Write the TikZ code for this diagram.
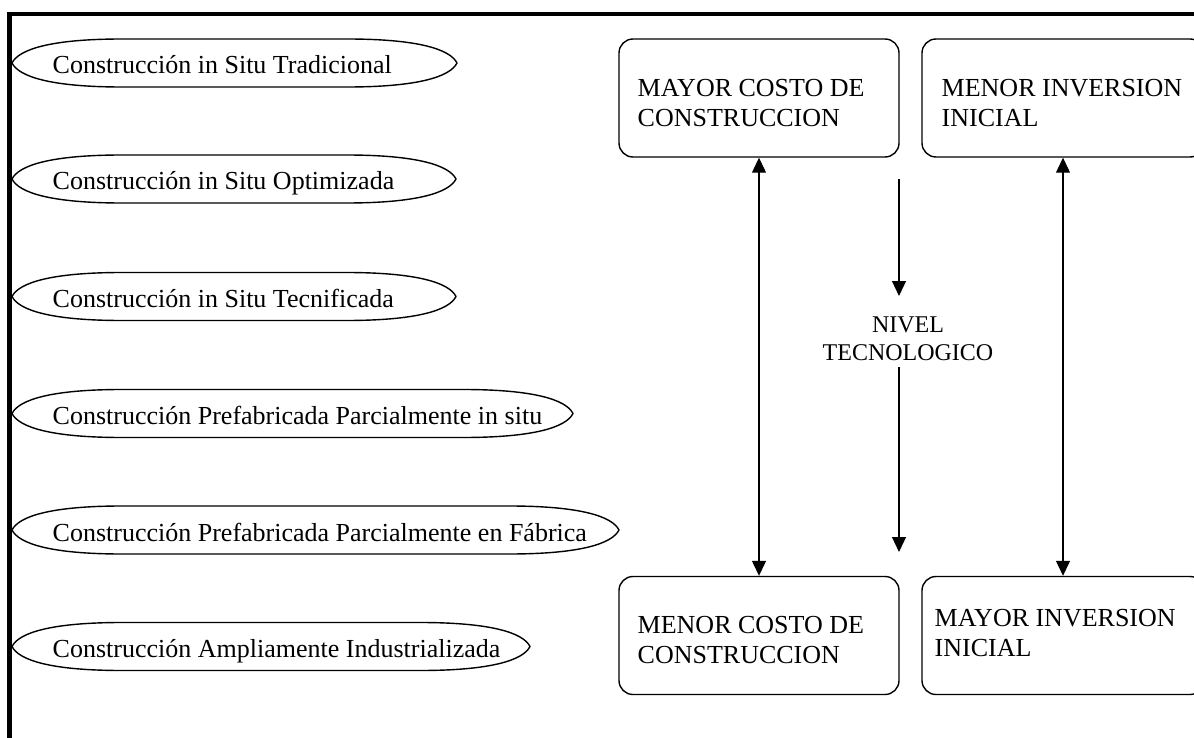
\documentclass[tikz,border=0pt]{standalone}
\usepackage{fontspec}
\setmainfont{Liberation Serif}
\usetikzlibrary{arrows.meta}
\newcommand\ovalpath[1]{%
  \draw[ovl] (#1.west)
    .. controls ([xshift=7pt,yshift=14pt]#1.west) and ([xshift=40pt]#1.north west) .. ([xshift=110pt]#1.north west)
    -- ([xshift=-110pt]#1.north east)
    .. controls ([xshift=-40pt]#1.north east) and ([xshift=-7pt,yshift=14pt]#1.east) .. (#1.east)
    .. controls ([xshift=-7pt,yshift=-14pt]#1.east) and ([xshift=-40pt]#1.south east) .. ([xshift=-110pt]#1.south east)
    -- ([xshift=110pt]#1.south west)
    .. controls ([xshift=40pt]#1.south west) and ([xshift=7pt,yshift=-14pt]#1.west) .. cycle;}
\begin{document}
\begin{tikzpicture}[x=1pt,y=-1pt,
  ov/.style={rectangle, inner sep=0pt, outer sep=0pt, minimum height=48pt},
  ovl/.style={line width=1.4pt, line join=round},
  lbl/.style={anchor=base west, inner sep=0pt, font=\fontsize{26}{30}\selectfont},
  rbox/.style={draw, rounded corners=14pt, line width=1.4pt, minimum height=118pt, inner sep=0pt},
  boxtxt/.style={anchor=base west, inner sep=0pt, font=\fontsize{26}{30}\selectfont},
  midtxt/.style={anchor=base, inner sep=0pt, font=\fontsize{24}{28}\selectfont},
  tip/.tip={Triangle[length=15pt,width=14pt]},
  conn/.style={line width=1.2pt, -tip},
  dconn/.style={line width=1.2pt, tip-tip}
]
\useasboundingbox (0,0) rectangle (1194,738);
\clip (0,0) rectangle (1194,738);

% frame
\draw[line width=4.5pt] (9.5,740) -- (9.5,14) -- (1196,14);

% ovals
\node[ov, minimum width=445pt] (e1) at (234.5,63) {};
\node[ov, minimum width=444pt] (e2) at (234,179) {};
\node[ov, minimum width=444pt] (e3) at (234,296.5) {};
\node[ov, minimum width=561pt] (e4) at (292.5,413.5) {};
\node[ov, minimum width=607pt] (e5) at (315.5,530) {};
\node[ov, minimum width=518pt] (e6) at (271,646.5) {};
\ovalpath{e1}\ovalpath{e2}\ovalpath{e3}\ovalpath{e4}\ovalpath{e5}\ovalpath{e6}

\node[lbl] (t1) at (52.5,74) {Construcción in Situ Tradicional};
\node[lbl] (t2) at (52.5,190) {Construcción in Situ Optimizada};
\node[lbl] (t3) at (52.5,307.5) {Construcción in Situ Tecnificada};
\node[lbl] (t4) at (52.5,424.5) {Construcción Prefabricada Parcialmente in situ};
\node[lbl] (t5) at (52.5,541) {Construcción Prefabricada Parcialmente en Fábrica};
\node[lbl] (t6) at (52.5,657.5) {Construcción Ampliamente Industrializada};

% boxes
\node[rbox, minimum width=280pt] (b1) at (759,98) {};
\node[rbox, minimum width=282pt] (b2) at (1063,98) {};
\node[rbox, minimum width=280pt] (b3) at (759,635.5) {};
\node[rbox, minimum width=282pt] (b4) at (1063,635.5) {};

\node[boxtxt] (b1t) at (637.5,97) {\begin{tabular}[t]{@{}l@{}}MAYOR COSTO DE\\CONSTRUCCION\end{tabular}};
\node[boxtxt] (b2t) at (941.5,97) {\begin{tabular}[t]{@{}l@{}}MENOR INVERSION\\INICIAL\end{tabular}};
\node[boxtxt] (b3t) at (637.5,633) {\begin{tabular}[t]{@{}l@{}}MENOR COSTO DE\\CONSTRUCCION\end{tabular}};
\node[boxtxt] (b4t) at (934.5,626) {\begin{tabular}[t]{@{}l@{}}MAYOR INVERSION\\INICIAL\end{tabular}};

% double arrows
\draw[dconn] (b1.south) -- (b3.north);
\draw[dconn] (b2.south) -- (b4.north);

% middle
\node[midtxt] (niv) at (908,332) {\begin{tabular}[t]{@{}c@{}}NIVEL\\TECNOLOGICO\end{tabular}};
\coordinate (m1) at (899,179);
\coordinate (m2) at (899,296);
\coordinate (m3) at (899,367);
\coordinate (m4) at (899,552);
\draw[conn] (m1) -- (m2);
\draw[conn] (m3) -- (m4);
\end{tikzpicture}
\end{document}
